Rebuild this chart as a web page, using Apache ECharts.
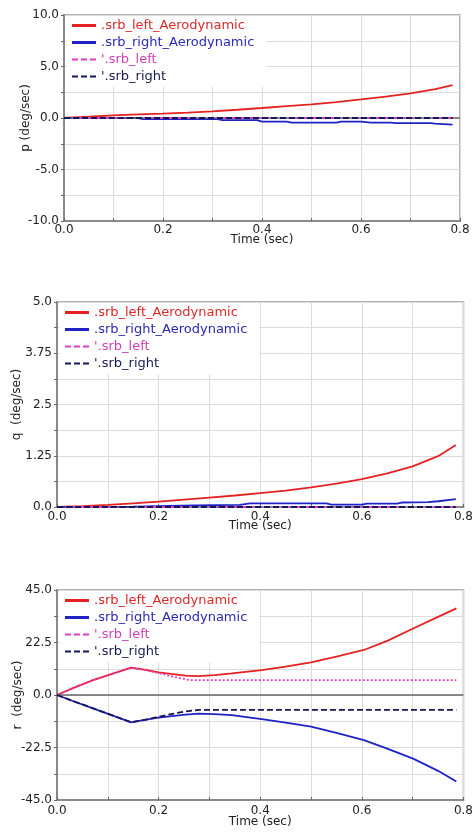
<!DOCTYPE html>
<html>
<head>
<meta charset="utf-8">
<script src="https://cdn.jsdelivr.net/npm/echarts@6/dist/echarts.min.js"></script>
<style>
html,body{margin:0;padding:0;background:#fff;}
#c{width:476px;height:832px;}
</style>
</head>
<body>
<div id="c"></div>
<script>
// ---- names ----
const seriesNames = ['.srb_left_Aerodynamic', '.srb_right_Aerodynamic', "'.srb_left", "'.srb_right"];
const xTickLabels = ['0.0', '0.2', '0.4', '0.6', '0.8'];

// ---- chart 1 : p (deg/sec) ----
const pLeftAeroT = [0, 0.05, 0.1, 0.15, 0.2, 0.25, 0.3, 0.35, 0.4, 0.45, 0.5, 0.55, 0.6, 0.65, 0.7, 0.75, 0.785];
const pLeftAeroV = [0, 0.12, 0.25, 0.35, 0.43, 0.52, 0.64, 0.8, 0.97, 1.15, 1.33, 1.55, 1.8, 2.08, 2.4, 2.8, 3.2];
const pRightAeroT = [0, 0.15, 0.16, 0.31, 0.32, 0.39, 0.4, 0.45, 0.46, 0.55, 0.56, 0.6, 0.62, 0.66, 0.67, 0.74, 0.75, 0.785];
const pRightAeroV = [0, 0, -0.1, -0.1, -0.2, -0.2, -0.35, -0.35, -0.45, -0.45, -0.35, -0.35, -0.45, -0.45, -0.5, -0.5, -0.55, -0.65];
const pLeftT = [0, 0.785];
const pLeftV = [0, 0];
const pRightT = [0, 0.785];
const pRightV = [0, 0];

// ---- chart 2 : q (deg/sec) ----
const qLeftAeroT = [0, 0.05, 0.1, 0.15, 0.2, 0.25, 0.3, 0.35, 0.4, 0.45, 0.5, 0.55, 0.6, 0.65, 0.7, 0.75, 0.785];
const qLeftAeroV = [0, 0.02, 0.05, 0.09, 0.13, 0.18, 0.23, 0.28, 0.34, 0.4, 0.48, 0.57, 0.68, 0.82, 0.99, 1.24, 1.51];
const qRightAeroT = [0, 0.15, 0.27, 0.36, 0.38, 0.53, 0.54, 0.6, 0.61, 0.67, 0.68, 0.73, 0.75, 0.785];
const qRightAeroV = [0, 0.01, 0.04, 0.05, 0.09, 0.09, 0.06, 0.06, 0.08, 0.08, 0.11, 0.12, 0.14, 0.19];
const qLeftT = [0, 0.785];
const qLeftV = [0, 0];
const qRightT = [0, 0.785];
const qRightV = [0, 0];

// ---- chart 3 : r (deg/sec) ----
const rAeroT = [0, 0.035, 0.071, 0.11, 0.146, 0.175, 0.2, 0.253, 0.279, 0.31, 0.344, 0.403, 0.45, 0.5, 0.55, 0.604, 0.65, 0.702, 0.75, 0.786];
const rLeftAeroV = [0, 3.3, 6.4, 9.2, 11.7, 10.8, 9.7, 8.3, 8.1, 8.5, 9.3, 10.7, 12.2, 14, 16.4, 19.3, 23.2, 28.6, 33.5, 37.1];
const rRightAeroV = [0, -2.9, -5.7, -8.8, -11.7, -10.6, -9.7, -8.4, -8, -8.2, -8.6, -10.3, -11.8, -13.6, -16.2, -19.3, -23, -27.4, -32.5, -37.1];
const rLeftT = [0, 0.035, 0.071, 0.11, 0.146, 0.175, 0.2, 0.23, 0.26, 0.786];
const rLeftV = [0, 3.3, 6.4, 9.2, 11.7, 10.6, 9.4, 7.8, 6.4, 6.4];
const rRightT = [0, 0.035, 0.071, 0.11, 0.146, 0.175, 0.2, 0.25, 0.28, 0.786];
const rRightV = [0, -2.9, -5.7, -8.8, -11.7, -10.6, -9.3, -7.1, -6.4, -6.4];

// ---- styling ----
const FONT = 'DejaVu Sans';
const lineColors = ['#e52222', '#1f22c4', '#e03cc0', '#151655'];
const textColors = ['#d82a2a', '#2a2ab8', '#d040b8', '#1a1a50'];
const DASH_ICON = 'path://M0,0h6v2h-6z M9,0h6v2h-6z M18,0h6v2h-6z';

function zip(t, v) { return t.map((x, i) => [x, v[i]]); }

const grids = [
  { left: 64, right: 16, top: 15, height: 206 },
  { left: 57, right: 9, top: 302, height: 205 },
  { left: 57, right: 9, top: 590, height: 210 }
];

const yDefs = [
  { name: 'p (deg/sec)', min: -10, max: 10, interval: 2.5, gap: 32,
    fmt: v => (Math.abs(Math.round(v / 2.5)) % 2 === 0 ? v.toFixed(1) : '') },
  { name: 'q  (deg/sec)', min: 0, max: 5, interval: 0.625, gap: 34,
    fmt: v => (Math.round(v / 0.625) % 2 === 0 ? (Number.isInteger(v) ? v.toFixed(1) : String(v)) : '') },
  { name: 'r  (deg/sec)', min: -45, max: 45, interval: 11.25, gap: 33,
    fmt: v => (Math.abs(Math.round(v / 11.25)) % 2 === 0 ? v.toFixed(1) : '') }
];
const xNameGaps = [13, 13, 16];
const xLabelMargins = [3, 4, 5];

const xAxes = grids.map((g, i) => ({
  type: 'value', gridIndex: i, min: 0, max: 0.8, interval: 0.1,
  name: 'Time (sec)', nameLocation: 'middle', nameGap: xNameGaps[i], nameMoveOverlap: false,
  nameTextStyle: { fontFamily: FONT, fontSize: 12, color: '#222' },
  axisLine: { show: true, onZero: false, lineStyle: { color: '#8a8a8a', width: 2 } },
  axisTick: { show: true, inside: true, length: 3, lineStyle: { color: '#666' } },
  axisLabel: {
    fontFamily: FONT, fontSize: 12, color: '#222', margin: xLabelMargins[i],
    formatter: v => { const k = Math.round(v * 10); return k % 2 === 0 ? xTickLabels[k / 2] : ''; }
  },
  splitLine: { show: true, lineStyle: { color: '#dcdcdc', width: 1 } }
}));

const yAxes = yDefs.map((d, i) => ({
  type: 'value', gridIndex: i, min: d.min, max: d.max, interval: d.interval,
  name: d.name, nameLocation: 'middle', nameGap: d.gap, nameRotate: 90, nameMoveOverlap: false,
  nameTextStyle: { fontFamily: FONT, fontSize: 12, color: '#222' },
  axisLine: { show: true, onZero: false, lineStyle: { color: '#8a8a8a', width: 2 } },
  axisTick: { show: true, inside: false, length: 3, lineStyle: { color: '#666' } },
  axisLabel: { fontFamily: FONT, fontSize: 12, color: '#222', margin: 5, formatter: d.fmt },
  splitLine: { show: true, lineStyle: { color: '#dcdcdc', width: 1 } }
}));

const chartData = [
  [zip(pLeftAeroT, pLeftAeroV), zip(pRightAeroT, pRightAeroV), zip(pLeftT, pLeftV), zip(pRightT, pRightV)],
  [zip(qLeftAeroT, qLeftAeroV), zip(qRightAeroT, qRightAeroV), zip(qLeftT, qLeftV), zip(qRightT, qRightV)],
  [zip(rAeroT, rLeftAeroV), zip(rAeroT, rRightAeroV), zip(rLeftT, rLeftV), zip(rRightT, rRightV)]
];

const series = [];
chartData.forEach((set, ci) => {
  set.forEach((data, si) => {
    let type = 'solid', width = 1.8;
    if (si === 2) { type = ci === 2 ? [2, 2] : [5, 3]; }
    if (si === 3) { type = [6, 3]; }
    const s = {
      type: 'line', name: seriesNames[si], xAxisIndex: ci, yAxisIndex: ci,
      data: data, showSymbol: false, symbol: 'none', animation: false,
      lineStyle: { color: lineColors[si], width: width, type: type },
      itemStyle: { color: lineColors[si] },
      z: 3 + si
    };
    if (si === 0 && ci !== 1) {
      s.markLine = {
        silent: true, symbol: 'none', animation: false, label: { show: false },
        lineStyle: { color: '#666', width: 1.5, type: 'solid' },
        data: [{ yAxis: 0 }]
      };
    }
    series.push(s);
  });
});

const legendTops = [16, 303, 591];
const legendLefts = [67, 60, 60];
const legends = legendTops.map((t, i) => ({
  show: true, orient: 'vertical', left: legendLefts[i], top: t,
  backgroundColor: '#ffffff', padding: [3, 12, 4, 5],
  itemWidth: 24, itemHeight: 3, itemGap: 4,
  textStyle: { fontFamily: FONT, fontSize: 13 },
  selectedMode: false,
  data: seriesNames.map((n, k) => ({
    name: n,
    icon: k >= 2 ? DASH_ICON : 'rect',
    itemStyle: { color: lineColors[k] },
    textStyle: { color: textColors[k], fontFamily: FONT, fontSize: 13 }
  }))
}));

const chart = echarts.init(document.getElementById('c'), null, { renderer: 'canvas' });
chart.setOption({
  backgroundColor: '#ffffff',
  animation: false,
  grid: grids.map(g => Object.assign({ show: true, borderColor: '#9a9a9a', borderWidth: 1.5, containLabel: false }, g)),
  xAxis: xAxes,
  yAxis: yAxes,
  legend: legends,
  series: series
});
</script>
</body>
</html>
